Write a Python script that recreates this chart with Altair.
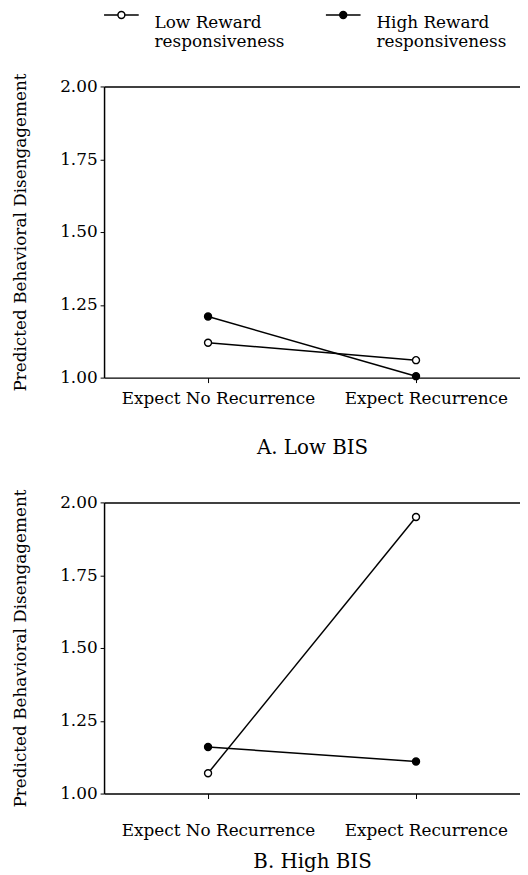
import altair as alt
import pandas as pd

conditions = ["Expect No Recurrence", "Expect Recurrence"]
groups = ["Low Reward|responsiveness", "High Reward|responsiveness"]
panel_titles = ["A. Low BIS", "B. High BIS"]
y_ticks = [1.00, 1.25, 1.50, 1.75, 2.00]

# Panel A (Low BIS)
a_low_reward = [1.12, 1.06]
a_high_reward = [1.21, 1.005]
# Panel B (High BIS)
b_low_reward = [1.07, 1.95]
b_high_reward = [1.16, 1.11]

FONT = "DejaVu Serif"
# circle with a line through it (legend glyph), unit = circle radius
SYMBOL = "M-5,0L-1,0M1,0L5,0M1,0A1,1,0,1,1,-1,0A1,1,0,1,1,1,0Z"


def make_df(low, high):
    rows = []
    for g, vals in zip(groups, [low, high]):
        for c, v in zip(conditions, vals):
            rows.append({"condition": c, "group": g, "value": v})
    return pd.DataFrame(rows)


def panel(df, title, show_legend, label_pad, title_pad):
    base = alt.Chart(df)
    xscale = alt.Scale(type="point", padding=0.5)
    x = alt.X(
        "condition:N",
        sort=conditions,
        scale=xscale,
        axis=alt.Axis(
            title=title,
            orient="bottom",
            labelAngle=0,
            labelOffset=10,
            labelPadding=label_pad,
            titlePadding=title_pad,
            tickSize=5,
            titleFontSize=20,
            labelFontSize=17,
            labelLimit=300,
        ),
    )
    x_plain = alt.X("condition:N", sort=conditions, scale=xscale, axis=None)
    y = alt.Y(
        "value:Q",
        scale=alt.Scale(domain=[1, 2], nice=False, zero=False),
        axis=alt.Axis(
            values=y_ticks,
            format=".2f",
            title="Predicted Behavioral Disengagement",
            tickSize=4,
            labelPadding=3,
            titlePadding=30,
            grid=False,
            labelFontSize=17,
            titleFontSize=17,
        ),
    )
    lines = base.mark_line(color="black", strokeWidth=1.5).encode(
        x=x, y=y, detail="group:N"
    )
    if show_legend:
        leg = alt.Legend(
            title=None,
            orient="none",
            legendX=9,
            legendY=-81,
            direction="horizontal",
            columns=2,
            symbolType=SYMBOL,
            symbolSize=49,
            symbolStrokeColor="black",
            symbolStrokeWidth=1.5,
            labelOffset=25,
            columnPadding=38,
            labelFont=FONT,
            labelFontSize=17,
            labelColor="black",
            labelBaseline="top",
            labelLimit=300,
            labelExpr="split(datum.label, '|')",
        )
    else:
        leg = None
    points = base.mark_point(
        filled=True, size=50, stroke="black", strokeWidth=1.4, opacity=1
    ).encode(
        x=x_plain,
        y=y,
        fill=alt.Fill(
            "group:N",
            scale=alt.Scale(domain=groups, range=["white", "black"]),
            legend=leg,
        ),
    )
    top_border = base.mark_point(opacity=0).encode(
        x=alt.X(
            "condition:N",
            sort=conditions,
            scale=xscale,
            axis=alt.Axis(
                orient="top",
                labels=False,
                ticks=False,
                title="",
                domain=True,
            ),
        ),
        y=alt.Y("value:Q"),
    )
    return (
        alt.layer(lines, points, top_border)
        .resolve_axis(x="independent")
        .properties(width=420, height=294)
    )


top = panel(make_df(a_low_reward, a_high_reward), panel_titles[0], True, 8, 32)
bottom = panel(make_df(b_low_reward, b_high_reward), panel_titles[1], False, 24, 14)

chart = (
    alt.vconcat(top, bottom, spacing=126, bounds="flush")
    .resolve_legend(fill="independent")
    .properties(padding={"left": 4, "top": -6, "right": 0, "bottom": 0})
    .configure_view(stroke=None)
    .configure_axis(
        labelFont=FONT,
        titleFont=FONT,
        labelColor="black",
        titleColor="black",
        domainColor="black",
        tickColor="black",
        domainWidth=1.5,
        titleFontWeight="normal",
    )
)

chart.save("out.html", embed_options={"renderer": "svg", "actions": False})
